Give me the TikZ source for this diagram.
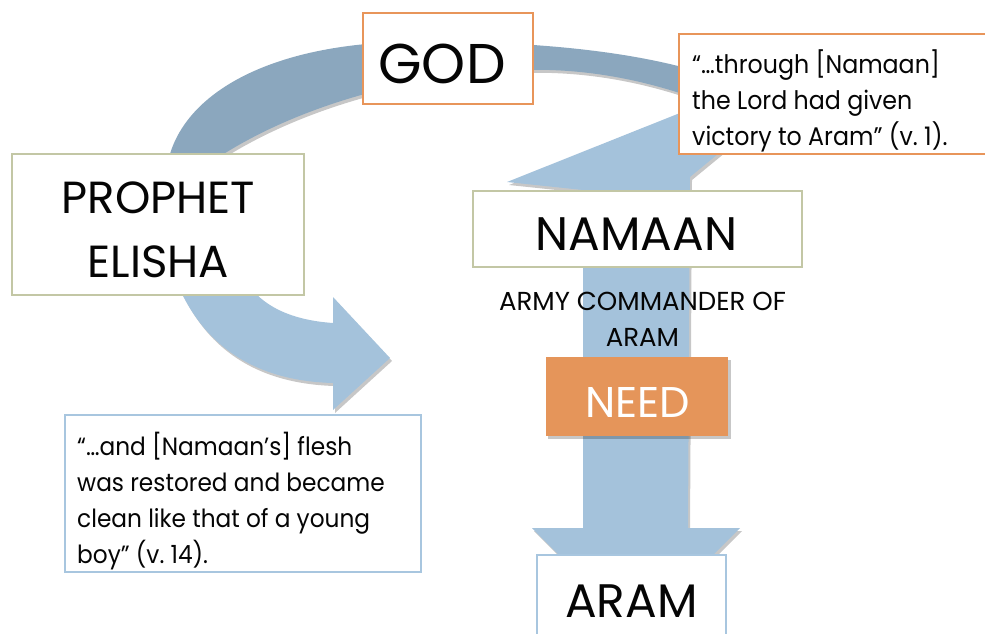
\documentclass[tikz,border=0pt]{standalone}
\usepackage{fontspec}
\setmainfont{Poppins}
\newfontfamily\quotefont[FakeStretch=0.93]{Poppins}
\definecolor{arcblue}{HTML}{8BA7BE}
\definecolor{lightblue}{HTML}{A4C2DB}
\definecolor{orangeline}{HTML}{E8955A}
\definecolor{orangefill}{HTML}{E5955A}
\definecolor{greenline}{HTML}{C3C7A5}
\definecolor{blueline}{HTML}{A8C6DF}
\definecolor{ink}{HTML}{050505}
\begin{document}
\begin{tikzpicture}[x=1pt,y=-1pt,
  box/.style={rectangle, fill=white, line width=1.6pt, inner sep=0pt},
  greenbox/.style={box, draw=greenline},
  orangebox/.style={box, draw=orangeline},
  bluebox/.style={box, draw=blueline},
  needbox/.style={rectangle, fill=orangefill, inner sep=0pt},
  shade/.style={fill=black, opacity=0.22},
  txt/.style={inner sep=0pt, text=ink, anchor=base},
  qtxt/.style={inner sep=0pt, text=ink, anchor=base west}]
\useasboundingbox (0,0) rectangle (985,633);

% ---- dark arc (Elisha -> God -> quote) ----
\begin{scope}[shift={(2,3)}]
\fill[shade] (166,175) .. controls (172,100) and (260,46) .. (400,42)
  .. controls (510,40) and (620,48) .. (700,72) -- (700,100)
  .. controls (640,78) and (580,68) .. (520,70)
  .. controls (420,73) and (290,104) .. (200,170) -- cycle;
\end{scope}
\fill[arcblue] (166,175) .. controls (172,100) and (260,46) .. (400,42)
  .. controls (510,40) and (620,48) .. (700,72) -- (700,100)
  .. controls (640,78) and (580,68) .. (520,70)
  .. controls (420,73) and (290,104) .. (200,170) -- cycle;

% ---- light curved arrow under Elisha ----
\begin{scope}[shift={(2,3)}]
\fill[shade] (172,270) .. controls (200,350) and (260,381) .. (333,383)
  -- (333,410) -- (390,358) -- (333,297) -- (333,323)
  .. controls (290,320) and (255,305) .. (240,270) -- cycle;
\end{scope}
\fill[lightblue] (172,270) .. controls (200,350) and (260,381) .. (333,383)
  -- (333,410) -- (390,358) -- (333,297) -- (333,323)
  .. controls (290,320) and (255,305) .. (240,270) -- cycle;

% ---- wedge and downward arrow through Namaan ----
\begin{scope}[shift={(2,3)}]
\fill[shade] (507,182) -- (705,103) -- (735,140) -- (690,177) -- (688,528)
  -- (740,528) -- (636,632) -- (532,528) -- (583,528) -- (583,190) -- cycle;
\end{scope}
\fill[lightblue] (507,182) -- (705,103) -- (735,140) -- (690,177) -- (688,528)
  -- (740,528) -- (636,632) -- (532,528) -- (583,528) -- (583,190) -- cycle;

% ---- boxes ----
\node[orangebox, minimum width=170, minimum height=91] (god) at (448,58.5) {};
\node[orangebox, minimum width=309, minimum height=120] (quoteA) at (833.5,94) {};
\node[greenbox, minimum width=292, minimum height=141] (elisha) at (158,224.5) {};
\node[greenbox, minimum width=329, minimum height=76] (namaan) at (637.5,229) {};
\fill[shade] (548,360) rectangle (731,439);
\node[needbox, minimum width=182, minimum height=79] (need) at (637,396.5) {};
\node[bluebox, minimum width=356, minimum height=157] (quoteB) at (243,493.5) {};
\node[bluebox, minimum width=189, minimum height=84] (aram) at (631.5,597) {};

% ---- texts ----
\node[txt, font=\fontsize{56}{56}\selectfont] (godtext) at (442,83) {GOD};
\node[txt, font=\fontsize{45}{64}\selectfont] (elishatext) at (158.5,213)
  {\parbox[t]{280pt}{\centering PROPHET\\ELISHA}};
\node[txt, font=\fontsize{47}{47}\selectfont] (namaantext) at (636.5,250) {NAMAAN};
\node[txt, font=\fontsize{26}{36}\selectfont] (armytext) at (642.5,310)
  {\parbox[t]{330pt}{\centering ARMY COMMANDER OF\\ARAM}};
\node[txt, text=white, font=\fontsize{43}{43}\selectfont] (needtext) at (637.5,417) {NEED};
\node[txt, font=\fontsize{47}{47}\selectfont] (aramtext) at (631.5,617) {ARAM};
\node[qtxt, font=\quotefont\fontsize{25.5}{36}\selectfont] (quoteAtext) at (692,73)
  {\parbox[t]{290pt}{\raggedright “…through [Namaan]\\the Lord had given\\victory to Aram” (v.~1).}};
\node[qtxt, font=\quotefont\fontsize{25}{36.3}\selectfont] (quoteBtext) at (77,455)
  {\parbox[t]{340pt}{\raggedright “…and [Namaan’s] flesh\\was restored and became\\clean like that of a young\\boy” (v.~14).}};
\end{tikzpicture}
\end{document}
